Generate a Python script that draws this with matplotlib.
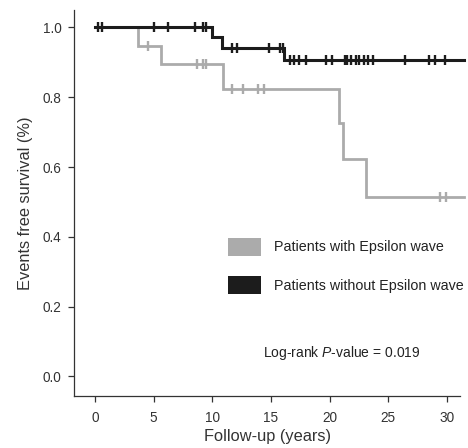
import numpy as np
import matplotlib
matplotlib.use("Agg")
import matplotlib.pyplot as plt
from matplotlib.patches import Patch

plt.rcParams['font.family'] = ['Liberation Sans', 'DejaVu Sans']
plt.rcParams['mathtext.fontset'] = 'custom'
plt.rcParams['mathtext.rm'] = 'Liberation Sans'
plt.rcParams['mathtext.it'] = 'Liberation Sans:italic'

# ---- data ----
# Patients without Epsilon wave (black)
no_eps_event_times = [0.0, 10.0, 10.8, 16.1]
no_eps_survival = [1.0, 0.973, 0.94, 0.906]
no_eps_censor_times = [0.25, 0.6, 5.0, 6.2, 8.5, 9.2, 9.45, 11.7, 12.1, 14.8,
                       15.75, 16.0, 16.6, 17.0, 17.4, 18.0, 19.7, 20.2, 21.3,
                       21.5, 21.8, 22.2, 22.5, 22.9, 23.3, 23.7, 26.4, 28.5,
                       29.0, 29.8]
no_eps_end = 31.4

# Patients with Epsilon wave (gray)
eps_event_times = [0.0, 3.7, 5.6, 10.9, 20.8, 21.1, 23.1]
eps_survival = [1.0, 0.948, 0.896, 0.825, 0.725, 0.622, 0.515]
eps_censor_times = [4.5, 8.7, 9.2, 9.5, 11.7, 12.65, 13.9, 14.4, 29.4, 29.9]
eps_end = 31.4

x_ticks = [0, 5, 10, 15, 20, 25, 30]
y_ticks = [0.0, 0.2, 0.4, 0.6, 0.8, 1.0]
legend_labels = ["Patients with Epsilon wave", "Patients without Epsilon wave"]
p_text = "Log-rank $\\mathit{P}$-value = 0.019"

GRAY = "#ababab"
BLACK = "#1c1c1c"

W, H = 468, 448
fig = plt.figure(figsize=(W / 100, H / 100), dpi=100)
ax = fig.add_axes([74 / W, 1 - 396 / H, (460 - 74) / W, (396 - 10) / H])


def km(ax, times, surv, end, censors, color, lw, z):
    t = list(times) + [end]
    s = list(surv) + [surv[-1]]
    ax.step(t, s, where='post', color=color, lw=lw, zorder=z,
            solid_joinstyle='miter', clip_on=False)
    idx = np.searchsorted(np.asarray(times), np.asarray(censors), side='right') - 1
    cs = np.asarray(surv)[idx]
    ax.plot(censors, cs, linestyle='none', marker='|', markersize=7.5,
            markeredgewidth=1.7, color=color, zorder=z, clip_on=False)


km(ax, eps_event_times, eps_survival, eps_end, eps_censor_times, GRAY, 2.0, 2)
km(ax, no_eps_event_times, no_eps_survival, no_eps_end, no_eps_censor_times, BLACK, 2.2, 3)

ax.set_xlim(-1.78, 31.1)
ax.set_ylim(-0.056, 1.05)
ax.set_xticks(x_ticks)
ax.set_xticklabels([str(v) for v in x_ticks])
ax.set_yticks(y_ticks)
ax.set_yticklabels([f"{v:.1f}" for v in y_ticks])
for sp in ['top', 'right']:
    ax.spines[sp].set_visible(False)
for sp in ['left', 'bottom']:
    ax.spines[sp].set_linewidth(0.9)
    ax.spines[sp].set_color('#333333')
ax.tick_params(axis='both', direction='out', length=4.5, width=0.9,
               color='#333333', labelsize=9.8, labelcolor='#333333')
ax.tick_params(axis='x', pad=6)
ax.tick_params(axis='y', pad=4.5)

ax.set_xlabel("Follow-up (years)", fontsize=11.8, color='#333333', labelpad=3)
ax.set_ylabel("Events free survival (%)", fontsize=11.8, color='#333333', labelpad=7)

handles = [Patch(facecolor=GRAY, edgecolor='none'),
           Patch(facecolor=BLACK, edgecolor='none')]
ax.legend(handles, legend_labels, loc='upper left',
          bbox_to_anchor=(227.7 / W, 1 - 237.7 / H), bbox_transform=fig.transFigure,
          frameon=False, fontsize=10.3, borderpad=0, borderaxespad=0,
          handlelength=2.3, handleheight=1.55, handletextpad=0.95,
          labelspacing=1.45, labelcolor='#222222')

fig.text(341.5 / W, 1 - 353 / H, p_text, ha='center', va='center',
         fontsize=10, color='#222222')

fig.savefig("out.png", dpi=100)
